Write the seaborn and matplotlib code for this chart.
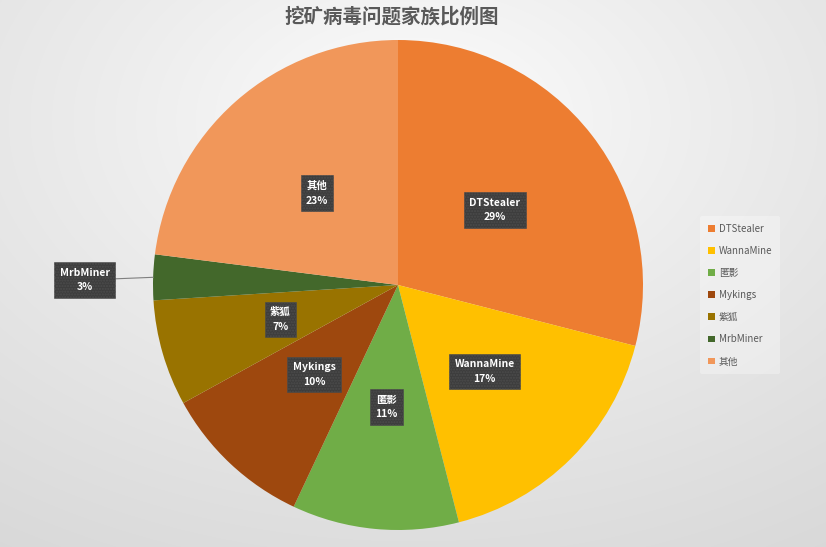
import numpy as np
import matplotlib
matplotlib.use("Agg")
import matplotlib.pyplot as plt
import seaborn as sns

# data
families = ["DTStealer", "WannaMine", "匿影", "Mykings", "紫狐", "MrbMiner", "其他"]
shares = [29, 17, 11, 10, 7, 3, 23]
colors = ["#ED7D31", "#FFC000", "#70AD47", "#9E480E", "#997300", "#43682B", "#F1975A"]
title = "挖矿病毒问题家族比例图"

sns.set_theme(style="white")
plt.rcParams["font.family"] = ["Noto Sans CJK SC", "DejaVu Sans"]

fig = plt.figure(figsize=(8.26, 5.47), dpi=100)

# light radial background like the office chart area
bg = fig.add_axes([0, 0, 1, 1], zorder=-10)
yy, xx = np.mgrid[0:547, 0:826]
d = np.sqrt(((xx - 413) / 826) ** 2 + ((yy - 120) / 547) ** 2)
d = np.clip(d / d.max(), 0, 1)
shade = 1.0 - 0.15 * d ** 0.8
bg.imshow(np.dstack([shade] * 3), aspect="auto", extent=[0, 1, 0, 1])
bg.axis("off")

ax = fig.add_axes([153 / 826, 17 / 547, 490 / 826, 490 / 547])
pal = sns.color_palette(colors)
wedges, _ = ax.pie(shares, colors=pal, startangle=90, counterclock=False,
                   radius=1.0, wedgeprops=dict(linewidth=0))
ax.set_xlim(-1, 1)
ax.set_ylim(-1, 1)
ax.set_aspect("equal")
ax.axis("off")

box = dict(boxstyle="square,pad=0.5", facecolor="#3d3d3d", edgecolor="#4c4c4c",
           hatch="......", linewidth=0.4)
for w, name, s in zip(wedges, families, shares):
    ang = np.deg2rad((w.theta1 + w.theta2) / 2)
    txt = f"{name}\n{s}%"
    if s < 5:
        ex, ey = np.cos(ang), np.sin(ang)
        ax.annotate(txt, xy=(ex, ey), xytext=(1.28 * ex, 1.28 * ey - 0.02),
                    ha="center", va="center", color="white", fontsize=7.5,
                    fontweight="bold", bbox=box, linespacing=1.6,
                    arrowprops=dict(arrowstyle="-", color="#7f7f7f", lw=0.8,
                                    shrinkA=0, shrinkB=0))
    else:
        ax.text(0.5 * np.cos(ang), 0.5 * np.sin(ang), txt, ha="center", va="center",
                color="white", fontsize=7.5, fontweight="bold", bbox=box, linespacing=1.6)

fig.text(392 / 826, 1 - 17 / 547, title, ha="center", va="center",
         fontsize=14, color="#595959", fontweight="bold")

leg = fig.legend(wedges, families, loc="center", bbox_to_anchor=(740 / 826, 1 - 295 / 547),
                 frameon=True, fontsize=7, handlelength=0.7, handleheight=0.7,
                 handletextpad=0.4, labelspacing=1.25, borderpad=0.8)
leg.get_frame().set_facecolor("#ffffff")
leg.get_frame().set_alpha(0.3)
leg.get_frame().set_edgecolor("none")
for t in leg.get_texts():
    t.set_color("#595959")

fig.savefig("out.png", dpi=100)
